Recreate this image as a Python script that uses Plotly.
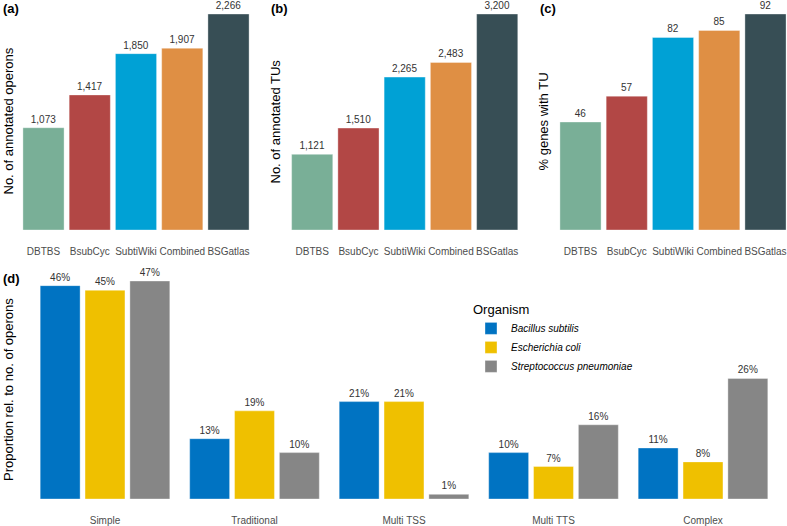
import plotly.graph_objects as go

# ---------------- data ----------------
databases = ["DBTBS", "BsubCyc", "SubtiWiki", "Combined", "BSGatlas"]
annotated_operons = [1073, 1417, 1850, 1907, 2266]
annotated_tus = [1121, 1510, 2265, 2483, 3200]
pct_genes_with_tu = [46, 57, 82, 85, 92]
db_colors = ["#79AF97", "#B24745", "#00A1D5", "#DF8F44", "#374E55"]

structure_types = ["Simple", "Traditional", "Multi TSS", "Multi TTS", "Complex"]
organisms = ["Bacillus subtilis", "Escherichia coli", "Streptococcus pneumoniae"]
bsub_pct = [46, 13, 21, 10, 11]
ecoli_pct = [45, 19, 21, 7, 8]
spneu_pct = [47, 10, 1, 16, 26]
org_colors = ["#0073C2", "#EFC000", "#868686"]

W, H = 787, 526
FONT = "Liberation Sans, Arial, Helvetica, sans-serif"
LABEL_COLOR = "#333333"
TICK_COLOR = "#4D4D4D"


def px_x(p):
    return p / W


def px_y(p):
    return (H - p) / H


fig = go.Figure()

# ---------------- panels a, b, c ----------------
top_panels = [
    ("x", "y", annotated_operons, "%{y:,}"),
    ("x2", "y2", annotated_tus, "%{y:,}"),
    ("x3", "y3", pct_genes_with_tu, "%{y}"),
]
for xa, ya, vals, tmpl in top_panels:
    fig.add_trace(go.Bar(
        x=databases, y=vals, xaxis=xa, yaxis=ya, width=0.89,
        marker=dict(color=db_colors, line=dict(width=0.8, color="rgba(255,255,255,0.45)")),
        texttemplate=tmpl, textposition="outside", cliponaxis=False,
        textfont=dict(size=10, color=LABEL_COLOR, family=FONT),
        showlegend=False, hoverinfo="x+y",
    ))

# ---------------- panel d ----------------
for name, vals, col in zip(organisms, [bsub_pct, ecoli_pct, spneu_pct], org_colors):
    fig.add_trace(go.Bar(
        x=structure_types, y=vals, xaxis="x4", yaxis="y4",
        name="<i>" + name + "</i>",
        marker=dict(color=col, line=dict(width=0.8, color="rgba(255,255,255,0.45)")),
        texttemplate="%{y}%", textposition="outside", cliponaxis=False,
        textfont=dict(size=10, color=LABEL_COLOR, family=FONT),
    ))

y_top_dom = [px_y(230), px_y(14)]
y_bot_dom = [px_y(499), px_y(281)]

xcommon = dict(
    type="category", showgrid=False, zeroline=False, showline=False,
    ticks="outside", ticklen=12, tickcolor="rgba(0,0,0,0)",
    tickfont=dict(size=10, color=TICK_COLOR, family=FONT),
    fixedrange=True, automargin=False, tickangle=0,
)
ycommon = dict(showgrid=False, zeroline=False, showline=False,
               showticklabels=False, ticks="", fixedrange=True, automargin=False)

unit_top = 46.25
a0, b0, c0 = 43.5, 312.2, 580.5
d0, unit_d = 105.0, 149.5

fig.update_layout(
    width=W, height=H,
    margin=dict(l=0, r=0, t=0, b=0, pad=0),
    paper_bgcolor="white", plot_bgcolor="white",
    font=dict(family=FONT, color="black"),
    barmode="group", bargap=0.1, bargroupgap=0.11,
    xaxis=dict(**xcommon, domain=[px_x(a0 - 0.6 * unit_top), px_x(a0 + 4.6 * unit_top)],
               range=[-0.6, 4.6], anchor="y"),
    yaxis=dict(**ycommon, domain=y_top_dom, range=[0, max(annotated_operons)], anchor="x"),
    xaxis2=dict(**xcommon, domain=[px_x(b0 - 0.6 * unit_top), px_x(b0 + 4.6 * unit_top)],
                range=[-0.6, 4.6], anchor="y2"),
    yaxis2=dict(**ycommon, domain=y_top_dom, range=[0, max(annotated_tus)], anchor="x2"),
    xaxis3=dict(**xcommon, domain=[px_x(c0 - 0.6 * unit_top), min(1.0, px_x(c0 + 4.45 * unit_top))],
                range=[-0.6, 4.45], anchor="y3"),
    yaxis3=dict(**ycommon, domain=y_top_dom, range=[0, max(pct_genes_with_tu)], anchor="x3"),
    xaxis4=dict(**xcommon, domain=[px_x(d0 - 0.5 * unit_d), px_x(d0 + 4.5 * unit_d)],
                range=[-0.5, 4.5], anchor="y4"),
    yaxis4=dict(**ycommon, domain=y_bot_dom,
                range=[0, max(bsub_pct + ecoli_pct + spneu_pct)], anchor="x4"),
    legend=dict(
        title=dict(text="Organism", font=dict(size=13, color="black", family=FONT)),
        font=dict(size=10, color="black", family=FONT),
        x=px_x(471), y=px_y(297), xanchor="left", yanchor="top",
        bgcolor="rgba(0,0,0,0)", tracegroupgap=0, itemclick=False,
    ),
)

# panel tags and y titles
annots = [
    dict(text="<b>(a)</b>", x=px_x(1), y=px_y(8), xanchor="left", size=13, angle=0),
    dict(text="<b>(b)</b>", x=px_x(269), y=px_y(8), xanchor="left", size=13, angle=0),
    dict(text="<b>(c)</b>", x=px_x(538), y=px_y(8), xanchor="left", size=13, angle=0),
    dict(text="<b>(d)</b>", x=px_x(1), y=px_y(278), xanchor="left", size=13, angle=0),
    dict(text="No. of annotated operons", x=px_x(8), y=px_y(121.5), xanchor="center", size=13, angle=-90),
    dict(text="No. of annotated TUs", x=px_x(275), y=px_y(121.5), xanchor="center", size=13, angle=-90),
    dict(text="% genes with TU", x=px_x(543), y=px_y(121.5), xanchor="center", size=13, angle=-90),
    dict(text="Proportion rel. to no. of operons", x=px_x(8), y=px_y(390), xanchor="center", size=13, angle=-90),
]
for a in annots:
    fig.add_annotation(text=a["text"], x=a["x"], y=a["y"], xref="paper", yref="paper",
                       xanchor=a["xanchor"], yanchor="middle", showarrow=False,
                       textangle=a["angle"], font=dict(size=a["size"], color="black", family=FONT))

fig.write_html(
    "out.html",
    config={"displayModeBar": False, "staticPlot": False},
    post_script="document.body.style.margin='0';document.body.style.overflow='hidden';",
)
